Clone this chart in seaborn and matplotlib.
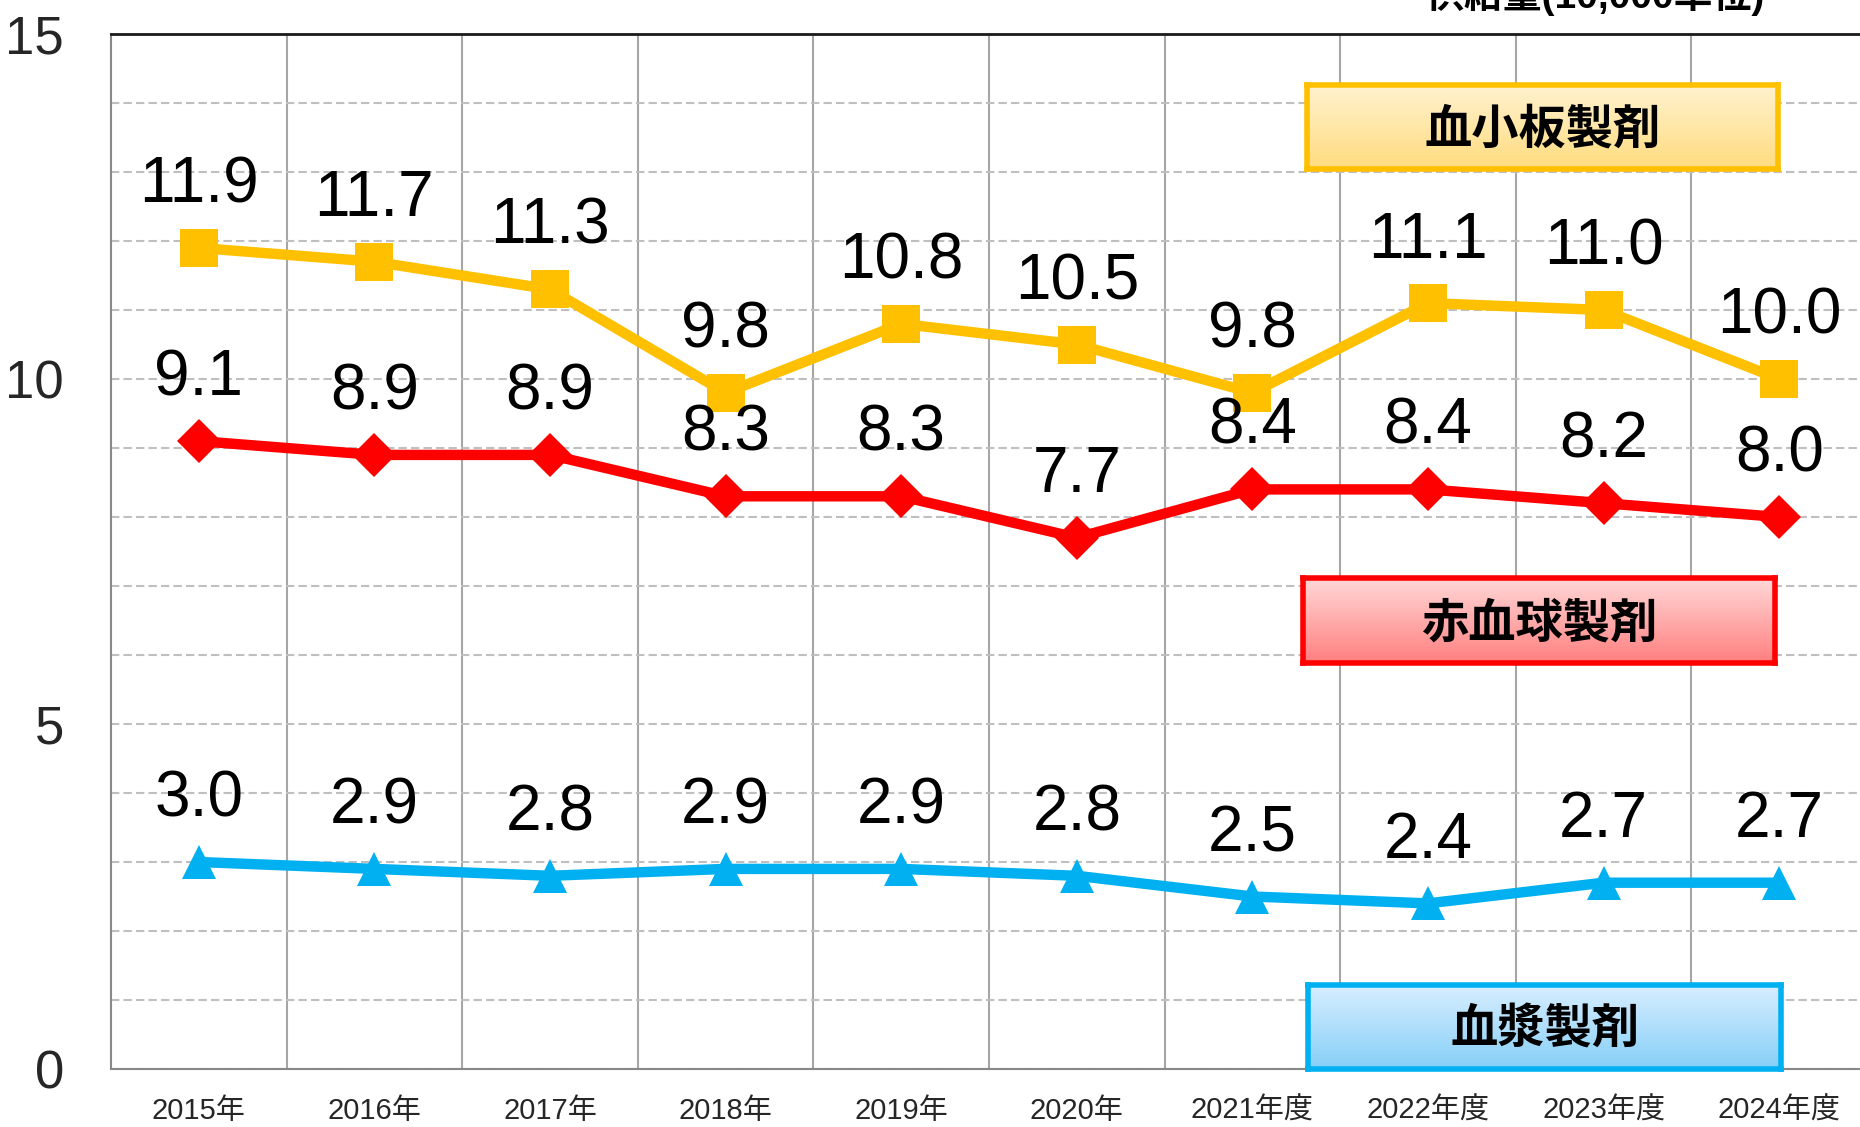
import numpy as np
import pandas as pd
import matplotlib
matplotlib.use("Agg")
import matplotlib.pyplot as plt
import seaborn as sns
from matplotlib.colors import LinearSegmentedColormap

years = ["2015年", "2016年", "2017年", "2018年", "2019年", "2020年",
         "2021年度", "2022年度", "2023年度", "2024年度"]
platelet = [11.9, 11.7, 11.3, 9.8, 10.8, 10.5, 9.8, 11.1, 11.0, 10.0]
rbc = [9.1, 8.9, 8.9, 8.3, 8.3, 7.7, 8.4, 8.4, 8.2, 8.0]
plasma = [3.0, 2.9, 2.8, 2.9, 2.9, 2.8, 2.5, 2.4, 2.7, 2.7]
series_names = ["血小板製剤", "赤血球製剤", "血漿製剤"]
unit_title = "供給量(10,000単位)"

sns.set_style("white")
plt.rcParams["font.family"] = ["Liberation Sans", "Noto Sans CJK JP", "DejaVu Sans"]

W, H = 1860, 1127
fig = plt.figure(figsize=(W / 100, H / 100), dpi=100)
ax = fig.add_axes([111 / W, 1 - 1069 / H, 1756 / W, (1069 - 34) / H])

idx = np.arange(len(years))
df = pd.DataFrame({
    "x": np.concatenate([idx, idx, idx]),
    "value": platelet + rbc + plasma,
    "series": np.repeat(series_names, len(years)),
})

styles = {
    "血小板製剤": dict(color="#FFC000", marker="s", ms=27),
    "赤血球製剤": dict(color="#FF0000", marker="D", ms=22),
    "血漿製剤": dict(color="#00B0F0", marker="^", ms=24),
}
for name in series_names:
    sub = df[df["series"] == name]
    st = styles[name]
    sns.lineplot(data=sub, x="x", y="value", ax=ax, color=st["color"],
                 linewidth=7.5, marker=st["marker"], markersize=st["ms"],
                 markeredgewidth=0, markerfacecolor=st["color"], zorder=3,
                 legend=False)
    for xi, v in zip(sub["x"], sub["value"]):
        ax.annotate(f"{v:.1f}", (xi, v), xytext=(0, 45), textcoords="offset points",
                    ha="center", va="center", fontsize=46, color="black", zorder=5)

ax.set_xlim(-0.5, 9.5)
ax.set_ylim(0, 15)
ax.set_xlabel("")
ax.set_ylabel("")
ax.set_xticks(idx)
ax.set_xticklabels(years, fontsize=21)
ax.set_xticks(np.arange(0.5, 9.5, 1), minor=True)
ax.set_yticks([0, 5, 10, 15])
ax.set_yticklabels(["0", "5", "10", "15"], fontsize=38)
ax.set_yticks(np.arange(0, 16, 1), minor=True)
ax.set_axisbelow(True)
ax.grid(which="minor", axis="x", color="#A6A6A6", lw=1.5, ls="-")
ax.grid(which="both", axis="y", color="#BFBFBF", lw=1.5, ls=(0, (4, 2)))
ax.tick_params(axis="x", which="both", length=0, pad=20)
ax.tick_params(axis="y", which="major", direction="in", length=11, width=1.5,
               color="#888888", pad=34)
ax.tick_params(axis="y", which="minor", length=0)
for s in ["left", "bottom"]:
    ax.spines[s].set_color("#888888")
    ax.spines[s].set_linewidth(1.5)
ax.spines["right"].set_visible(False)
ax.spines["top"].set_color("#1a1a1a")
ax.spines["top"].set_linewidth(2)

# label boxes with gradient fill
boxes = [
    ("血小板製剤", (1307, 85, 1778, 169), "#FFF2CF", "#FFDC7F", "#FFC000"),
    ("赤血球製剤", (1303, 578, 1775, 663), "#FFD8D8", "#FF7F7F", "#FF0000"),
    ("血漿製剤", (1308, 985, 1781, 1069), "#D8EEFF", "#86CFF7", "#00B0F0"),
]
for text, (x0, y0, x1, y1), ctop, cbot, cedge in boxes:
    bax = fig.add_axes([x0 / W, 1 - y1 / H, (x1 - x0) / W, (y1 - y0) / H], zorder=6)
    cmap = LinearSegmentedColormap.from_list("g", [ctop, cbot])
    grad = np.linspace(0, 1, 256).reshape(-1, 1)
    bax.imshow(grad, aspect="auto", cmap=cmap, extent=[0, 1, 0, 1], origin="upper")
    bax.set_xticks([])
    bax.set_yticks([])
    for sp in bax.spines.values():
        sp.set_color(cedge)
        sp.set_linewidth(4)
    bax.text(0.5, 0.47, text, ha="center", va="center", fontsize=34,
             family=["Noto Sans CJK JP"], weight="bold", color="black")

fig.text(1595 / W, 1 - 8 / H, unit_title, ha="center", va="baseline",
         fontsize=28, weight="bold", color="black")

fig.savefig("out.png", dpi=100)
